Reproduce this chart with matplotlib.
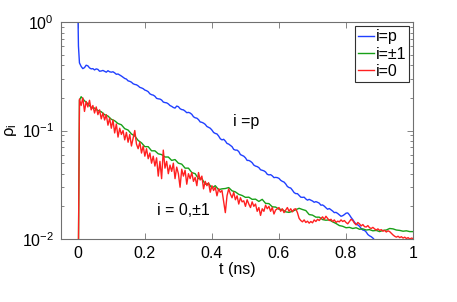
import numpy as np
import matplotlib
matplotlib.use('Agg')
from matplotlib import pyplot as plt

plt.rcParams['font.family'] = ['Liberation Sans', 'DejaVu Sans']
plt.rcParams['mathtext.fontset'] = 'custom'
plt.rcParams['mathtext.rm'] = 'Liberation Sans'
plt.rcParams['mathtext.it'] = 'Liberation Sans:italic'

#i = p population, first points = the initial drop, rest every 0.005 ns from 0.01
t_p_start = [0.0, 0.002, 0.005]
rho_p_start = [1.5, 0.6, 0.42]
rho_p = [0.39, 0.372, 0.38, 0.40, 0.395, 0.378, 0.37, 0.372, 0.362, 0.37,
         0.366, 0.352, 0.354, 0.358, 0.351, 0.345, 0.356, 0.348, 0.345, 0.348,
         0.34, 0.33, 0.332, 0.325, 0.318, 0.31, 0.302, 0.298, 0.287, 0.284,
         0.279, 0.27, 0.266, 0.264, 0.258, 0.25, 0.247, 0.243, 0.236, 0.233,
         0.228, 0.218, 0.214, 0.212, 0.207, 0.198, 0.196, 0.195, 0.191, 0.183,
         0.181, 0.18, 0.176, 0.17, 0.167, 0.163, 0.161, 0.168, 0.166, 0.159,
         0.156, 0.155, 0.151, 0.146, 0.147, 0.145, 0.141, 0.134, 0.131, 0.13,
         0.126, 0.12, 0.119, 0.117, 0.114, 0.109, 0.107, 0.105, 0.101, 0.096,
         0.094, 0.093, 0.089, 0.084, 0.082, 0.083, 0.08, 0.076, 0.075, 0.073,
         0.071, 0.067, 0.066, 0.066, 0.064, 0.06, 0.059, 0.058, 0.056, 0.053,
         0.053, 0.052, 0.0505, 0.048, 0.047, 0.0465, 0.0455, 0.0435, 0.043, 0.0425,
         0.0415, 0.0395, 0.039, 0.0392, 0.0382, 0.0368, 0.037, 0.0368, 0.0362, 0.0348,
         0.034, 0.0335, 0.0322, 0.0305, 0.0298, 0.0295, 0.0282, 0.0268, 0.0262, 0.0262,
         0.0252, 0.0243, 0.0242, 0.0243, 0.0234, 0.0228, 0.0232, 0.0228, 0.0224, 0.0218,
         0.0221, 0.0218, 0.0214, 0.0205, 0.0206, 0.0201, 0.0194, 0.0188, 0.0191, 0.0186,
         0.0181, 0.0175, 0.0176, 0.0172, 0.0167, 0.0162, 0.0164, 0.0168, 0.0173, 0.0174,
         0.0167, 0.0158, 0.0151, 0.0143, 0.0137, 0.0135, 0.0131, 0.0125, 0.0121, 0.012,
         0.0116, 0.011, 0.0107, 0.0105, 0.0102, 0.0098, 0.0094, 0.0089]

#i = +-1 population, every 0.01 ns from 0.01
t_pm_start = [0.0, 0.005]
rho_pm_start = [0.001, 0.19]
rho_pm = [0.205, 0.188, 0.177, 0.163, 0.161, 0.153, 0.149, 0.14, 0.136, 0.127,
          0.123, 0.116, 0.113, 0.104, 0.101, 0.093, 0.089, 0.081, 0.077, 0.071,
          0.071, 0.065, 0.065, 0.061, 0.06, 0.057, 0.057, 0.053, 0.054, 0.05,
          0.049, 0.045, 0.045, 0.041, 0.04, 0.036, 0.036, 0.032, 0.0325, 0.0295,
          0.031, 0.0285, 0.029, 0.0292, 0.0298, 0.0278, 0.0272, 0.0258, 0.0252, 0.0242,
          0.0243, 0.0232, 0.0233, 0.0222, 0.0232, 0.0213, 0.0212, 0.0198, 0.0197, 0.0188,
          0.0187, 0.0178, 0.0176, 0.018, 0.0186, 0.0192, 0.0187, 0.0183, 0.0168, 0.0166,
          0.0159, 0.0159, 0.0151, 0.0149, 0.015, 0.0144, 0.0139, 0.0133, 0.0131, 0.0127,
          0.0128, 0.0125, 0.0127, 0.0123, 0.0124, 0.0121, 0.0122, 0.0119, 0.012, 0.0117,
          0.012, 0.0121, 0.0125, 0.0124, 0.0121, 0.012, 0.0118, 0.0119, 0.0117, 0.0117]

#i = 0 population, every 0.005 ns from 0
rho_0 = [0.001, 0.195, 0.17, 0.2, 0.15, 0.185, 0.165, 0.19, 0.155, 0.17,
         0.145, 0.165, 0.14, 0.155, 0.128, 0.145, 0.125, 0.14, 0.112, 0.13,
         0.105, 0.125, 0.095, 0.115, 0.087, 0.105, 0.092, 0.1, 0.082, 0.096,
         0.078, 0.092, 0.072, 0.085, 0.1, 0.075, 0.068, 0.078, 0.062, 0.072,
         0.058, 0.068, 0.055, 0.062, 0.05, 0.058, 0.047, 0.056, 0.038, 0.052,
         0.036, 0.066, 0.045, 0.052, 0.04, 0.048, 0.042, 0.05, 0.036, 0.046,
         0.04, 0.03, 0.044, 0.038, 0.043, 0.032, 0.04, 0.036, 0.041, 0.034,
         0.037, 0.031, 0.041, 0.035, 0.038, 0.029, 0.034, 0.031, 0.033, 0.027,
         0.031, 0.028, 0.03, 0.025, 0.029, 0.027, 0.028, 0.022, 0.0175, 0.025,
         0.029, 0.026, 0.024, 0.027, 0.023, 0.025, 0.021, 0.024, 0.022, 0.0225,
         0.02, 0.023, 0.021, 0.0195, 0.022, 0.02, 0.021, 0.018, 0.0195, 0.0165,
         0.019, 0.018, 0.0205, 0.019, 0.02, 0.018, 0.0195, 0.017, 0.0185, 0.019,
         0.0195, 0.018, 0.019, 0.0175, 0.0185, 0.0195, 0.018, 0.019, 0.0178, 0.0188,
         0.019, 0.0175, 0.0155, 0.0148, 0.0144, 0.015, 0.0142, 0.0146, 0.014, 0.0145,
         0.0141, 0.015, 0.0145, 0.0152, 0.0148, 0.0155, 0.016, 0.0152, 0.0162, 0.0155,
         0.0148, 0.0152, 0.0145, 0.015, 0.0142, 0.0146, 0.0144, 0.015, 0.0145, 0.0148,
         0.0142, 0.0138, 0.0145, 0.0152, 0.0148, 0.014, 0.0135, 0.0142, 0.0138, 0.0132,
         0.0136, 0.013, 0.0129, 0.0133, 0.0127, 0.0125, 0.0128, 0.0124, 0.0121, 0.0124,
         0.012, 0.0122, 0.0118, 0.012, 0.0116, 0.0119, 0.0117, 0.0113, 0.0109, 0.0106,
         0.0104, 0.0106, 0.0103, 0.0105, 0.0102, 0.0104, 0.0101, 0.0103, 0.01, 0.0102,
         0.0101]

t_p = np.concatenate([t_p_start, 0.01 + 0.005*np.arange(len(rho_p))])
y_p = np.concatenate([rho_p_start, rho_p])
t_pm = np.concatenate([t_pm_start, 0.01*np.arange(1, len(rho_pm)+1)])
y_pm = np.concatenate([rho_pm_start, rho_pm])
t_0 = 0.005*np.arange(len(rho_0))

fig = plt.figure(figsize=(4.57, 3.02), dpi=100)
ax = fig.add_axes([0.1335, 0.2086, 0.7705, 0.7184])

ax.plot(t_p, y_p, color='#2040ff', lw=1.0, label='i=p')
ax.plot(t_pm, y_pm, color='#18a018', lw=1.0, label='i=±1')
ax.plot(t_0, rho_0, color='#ff2020', lw=1.0, label='i=0')

ax.set_yscale('log')
ax.set_xlim([-0.05, 1])
ax.set_ylim([1e-2, 1])
ax.set_xticks([0, 0.2, 0.4, 0.6, 0.8, 1])
ax.set_xticklabels(['0', '0.2', '0.4', '0.6', '0.8', '1'])
ax.set_yticks([1e-2, 1e-1, 1])
ax.set_yticklabels([r'$10^{-2}$', r'$10^{-1}$', r'$10^{0}$'])

for s in ax.spines.values():
    s.set_color('#707070')
    s.set_linewidth(0.8)
ax.tick_params(which='both', direction='in', top=True, right=True, colors='#707070',
               labelcolor='black', labelsize=11.5, width=0.6)
ax.tick_params(which='major', length=4, pad=5)
ax.tick_params(which='minor', length=2)

ax.set_xlabel('t (ns)', fontsize=11.5, labelpad=1)
ax.set_ylabel(r'$\mathrm{\rho_i}$', fontsize=12, labelpad=2)

ax.text(0.463, 0.12, 'i =p', fontsize=11.5, va='center', ha='left')
ax.text(0.236, 0.0185, 'i = 0,±1', fontsize=11.5, va='center', ha='left')

leg = ax.legend(loc='upper right', fontsize=11.5, handlelength=1.0, handletextpad=0.1,
                labelspacing=0.15, borderpad=0.2, borderaxespad=0.25, fancybox=False,
                framealpha=1)
leg.get_frame().set_edgecolor('#303030')
leg.get_frame().set_linewidth(0.8)

plt.savefig('out.png', dpi=100)
